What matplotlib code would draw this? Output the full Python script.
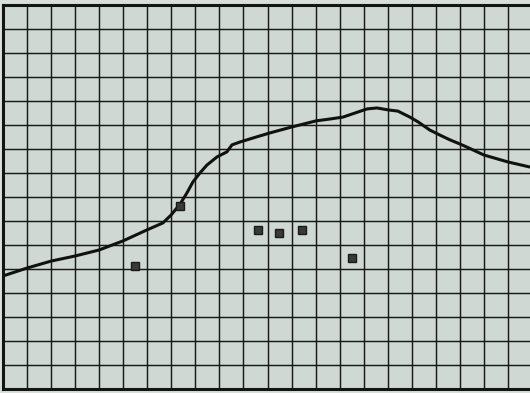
import matplotlib
matplotlib.use("Agg")
import matplotlib.pyplot as plt
import numpy as np

# curve (grid units)
curve_x = [0.0, 1.00, 2.00, 2.99, 3.99, 4.99, 5.99, 6.65, 6.99, 7.36, 7.65, 7.90,
           8.19, 8.48, 8.90, 9.31, 9.52, 9.85, 10.40, 11.10, 12.02, 13.01, 13.60,
           14.14, 14.64, 15.14, 15.55, 16.01, 16.42, 16.92, 17.26, 17.75, 18.17,
           18.59, 19.00, 19.29, 20.00, 21.00, 21.91]
curve_y = [4.71, 5.04, 5.33, 5.54, 5.79, 6.17, 6.63, 6.92, 7.25, 7.70, 8.17, 8.63,
           9.00, 9.33, 9.67, 9.88, 10.17, 10.29, 10.46, 10.67, 10.92, 11.17, 11.25,
           11.33, 11.50, 11.67, 11.71, 11.63, 11.58, 11.33, 11.13, 10.79, 10.58,
           10.38, 10.21, 10.08, 9.75, 9.46, 9.25]

# measured points
pts_x = [5.49, 7.36, 10.60, 11.48, 12.43, 14.51]
pts_y = [5.12, 7.62, 6.62, 6.50, 6.62, 5.46]

W, H = 530, 393
fig = plt.figure(figsize=(W / 100, H / 100), dpi=100, facecolor="#d9e0dc")
ax = fig.add_axes([3 / W, 4 / H, 529 / W, 384 / H])
ax.set_facecolor("#cfd8d3")
ax.set_xlim(0, 22)
ax.set_ylim(0, 16)
ax.set_xticks(np.arange(0, 23, 1))
ax.set_yticks(np.arange(0, 17, 1))
ax.tick_params(length=0, labelbottom=False, labelleft=False)
ax.grid(True, color="#1a1a1a", linewidth=1.05)
ax.set_axisbelow(True)
for side in ["left", "top", "bottom"]:
    ax.spines[side].set_linewidth(2.2)
    ax.spines[side].set_color("#141414")
ax.spines["right"].set_visible(False)

ax.plot(curve_x, curve_y, color="#111111", linewidth=2.2,
        solid_capstyle="round", solid_joinstyle="round")
ax.plot(pts_x, pts_y, linestyle="none", marker="s", markersize=6,
        markerfacecolor="#3a3a3a", markeredgecolor="#1a1a1a", markeredgewidth=1.0)

fig.savefig("out.png", dpi=100, facecolor=fig.get_facecolor())
